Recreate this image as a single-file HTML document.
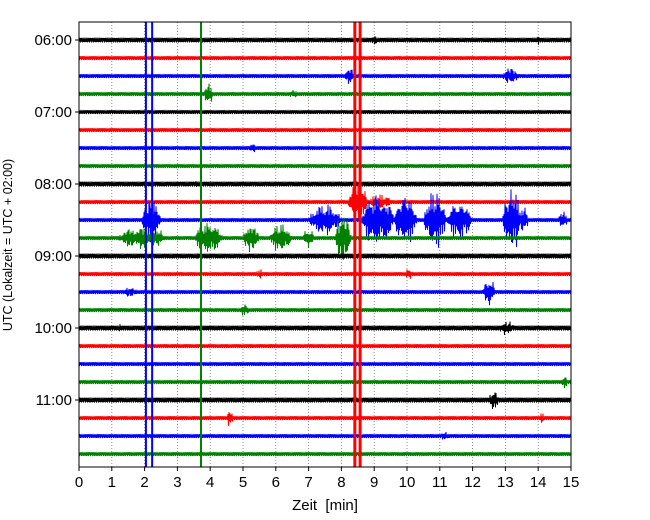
<!DOCTYPE html>
<html><head><meta charset="utf-8"><style>
body{margin:0;background:#fff;}
svg{display:block;font-family:"Liberation Sans","DejaVu Sans",sans-serif;}
</style></head><body>
<svg id="c" width="650" height="520"></svg>
<script>
const traceColors=["black","red","blue","green"];
const hourLabels=["06:00","07:00","08:00","09:00","10:00","11:00"];
const xTicks=[0,1,2,3,4,5,6,7,8,9,10,11,12,13,14,15];
const traceCount=24;
const baseAmp=[2.4,2,2,2,2,2,2,2,2.6,2,2,2,2.6,2,2,2,2.6,2,2,2,2.6,2,2,2];
// events: [trace, start min, end min, amplitude px]
const eventTrace=[10,10,10,10,10,10,10,10,11,11,11,11,11,11,9,9,2,2,3,3,0,0,6,14,14,13,13,15,16,16,21,21,20,22,19,8,12,11,10,10];
const eventStart=[1.9,7.0,8.6,9.6,10.5,11.2,12.9,13.4,1.1,3.5,5.0,5.8,7.8,2.3,8.2,8.8,8.1,12.9,3.8,6.4,8.9,13.9,5.2,1.3,12.3,5.4,9.9,4.9,1.1,12.8,4.5,14.0,12.5,11.0,14.7,3.5,3.5,6.8,9.2,14.6];
const eventEnd=[2.5,8.0,9.5,10.3,11.2,12.0,13.5,13.7,2.6,4.4,5.5,6.5,8.3,2.6,8.8,9.6,8.4,13.4,4.1,6.7,9.1,14.1,5.4,1.8,12.7,5.6,10.2,5.2,1.3,13.3,4.7,14.2,12.8,11.3,14.9,3.7,3.7,7.2,9.6,14.9];
const eventAmp=[24,18,30,30,32,22,36,16,12,18,16,16,30,9,24,8,10,10,12,5,7,5,7,6,15,6,6,7,5,8,10,6,12,5,8,4,4,10,22,10];
const spikeTimes=[2.04,2.23,3.72,8.41,8.57];
const spikeColors=["blue","blue","green","red","red"];
const spikeWidth=[2,2,2,3,3];

const NS="http://www.w3.org/2000/svg";
const svg=document.getElementById("c");
const X0=79,X1=571,Y0=22,Y1=467;
const xs=t=>X0+(X1-X0)*t/15;
const ys=i=>40+18*i;
function el(tag,attrs,parent){const e=document.createElementNS(NS,tag);for(const k in attrs)e.setAttribute(k,attrs[k]);(parent||svg).appendChild(e);return e;}

xTicks.forEach((t,i)=>{
  const g=el("line",{x1:xs(t),x2:xs(t),y1:Y0,y2:Y1,stroke:"#777","stroke-width":0.8,"stroke-dasharray":"1,2"});
  
  
  const tk=el("line",{x1:xs(t),x2:xs(t),y1:Y1,y2:Y1+4,stroke:"#000"});
  
  
  const tx=el("text",{x:xs(t),y:Y1+20,"text-anchor":"middle","font-size":15});
  tx.textContent=t;
  
  
});
for(let i=0;i<traceCount;i++){
  const y=ys(i);let d="";let n=0;
  for(let px=X0;px<=X1;px+=0.5){
    const t=(px-X0)/(X1-X0)*15;
    let a=baseAmp[i];
    for(let k=0;k<eventTrace.length;k++){
      if(eventTrace[k]!==i)continue;
      const s=eventStart[k],e=eventEnd[k];
      if(t>=s&&t<=e){const u=(t-s)/(e-s);const env=Math.pow(Math.sin(Math.PI*u),0.7)*(0.35+0.65*Math.abs(Math.sin(u*37+k*2.1)*Math.sin(u*11+k)));a=Math.max(a,eventAmp[k]*env);}
    }
    const sgn=(n%2?1:-1);n++;
    const osc=sgn*(0.55+0.45*Math.abs(Math.sin(px*1.7+i*1.3)));
    d+=(d?"L":"M")+px.toFixed(1)+","+(y+a*osc).toFixed(1);
  }
  const p=el("path",{d:d,fill:"none",stroke:traceColors[i%4],"stroke-width":1});
  
  
}
spikeTimes.forEach((t,i)=>{
  const l=el("line",{x1:xs(t),x2:xs(t),y1:Y0,y2:Y1,stroke:spikeColors[i],"stroke-width":spikeWidth[i]});
  
  
});
hourLabels.forEach((h,j)=>{
  const y=ys(j*4);
  const tk=el("line",{x1:X0-4,x2:X0,y1:y,y2:y,stroke:"#000"});
  
  
  const tx=el("text",{x:X0-7,y:y+5,"text-anchor":"end","font-size":15});
  tx.textContent=h;
  
  
});
const fr=el("rect",{x:X0,y:Y0,width:X1-X0,height:Y1-Y0,fill:"none",stroke:"#000","stroke-width":1});


const xl=el("text",{x:325,y:510,"text-anchor":"middle","font-size":15,style:"white-space:pre"});
xl.textContent="Zeit  [min]";


const yl=el("text",{x:0,y:0,"text-anchor":"middle","font-size":12.5,transform:"translate(12,245) rotate(-90)"});
yl.textContent="UTC (Lokalzeit = UTC + 02:00)";


</script>
</body></html>
